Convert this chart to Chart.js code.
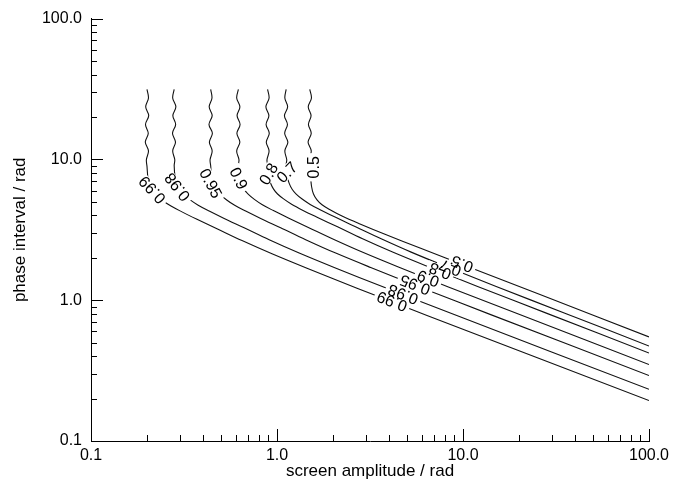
<!DOCTYPE html>
<html>
<head>
<meta charset="utf-8">
<script src="https://cdn.jsdelivr.net/npm/chart.js@4.4.1/dist/chart.umd.min.js"></script>
<style>
  html, body { margin: 0; padding: 0; background: #fff; }
  #wrap { width: 690px; height: 482px; }
</style>
</head>
<body>
<div id="wrap"><canvas id="chart" width="690" height="482"></canvas></div>
<script>
// Contour levels, in drawing order
const levelNames = ['0.99', '0.98', '0.95', '0.9', '0.8', '0.7', '0.5'];

// Contour paths: screen amplitude (x, rad) and phase interval (y, rad)
const c099x = [0.2, 0.2037, 0.1968, 0.2043, 0.1963, 0.2032, 0.1958, 0.2037, 0.1985,
  0.2, 0.2025, 0.2076, 0.2154, 0.2264, 0.2438, 0.2692, 0.3084, 0.3714, 0.4756, 0.6484, 0.9398, 1.450, 2.692, 6.404, 100];
const c099y = [31.4, 27.31, 23.63, 20.46, 17.71, 15.33, 13.27, 11.49, 9.95,
  8.92, 7.37, 6.58, 5.98, 5.52, 5.09, 4.66, 4.24, 3.76, 3.22, 2.65, 2.135, 1.685, 1.217, 0.780, 0.194];

const c098x = [0.28, 0.2749, 0.2860, 0.2755, 0.2852, 0.2742, 0.2846, 0.2749, 0.2821,
  0.28, 0.2835, 0.2906, 0.3016, 0.3170, 0.3413, 0.3769, 0.4318, 0.520, 0.6658, 0.9078, 1.316, 2.030, 3.769, 8.966, 100];
const c098y = [31.4, 27.31, 23.63, 20.46, 17.71, 15.33, 13.27, 11.49, 9.95,
  9.05, 7.47, 6.67, 6.06, 5.60, 5.16, 4.73, 4.30, 3.81, 3.27, 2.69, 2.165, 1.709, 1.234, 0.791, 0.233];

const c095x = [0.44, 0.4471, 0.4319, 0.4482, 0.4308, 0.4494, 0.4330, 0.4482, 0.4367,
  0.44, 0.4455, 0.4567, 0.4739, 0.4981, 0.5364, 0.5922, 0.6785, 0.8171, 1.046, 1.426, 2.068, 3.190, 5.922, 14.09, 100];
const c095y = [31.4, 27.31, 23.63, 20.46, 17.71, 15.33, 13.27, 11.49, 9.95,
  9.02, 7.45, 6.66, 6.05, 5.59, 5.15, 4.72, 4.30, 3.81, 3.27, 2.69, 2.16, 1.707, 1.233, 0.790, 0.292];

const c090x = [0.62, 0.6071, 0.6316, 0.6101, 0.6332, 0.6086, 0.6316, 0.6071, 0.6246,
  0.62, 0.6278, 0.6436, 0.6677, 0.7018, 0.7558, 0.8345, 0.956, 1.151, 1.474, 2.010, 2.913, 4.494, 8.345, 19.85, 100];
const c090y = [31.4, 27.31, 23.63, 20.46, 17.71, 15.33, 13.27, 11.49, 9.95,
  9.11, 7.52, 6.72, 6.10, 5.64, 5.20, 4.76, 4.33, 3.84, 3.29, 2.71, 2.18, 1.721, 1.243, 0.797, 0.349];

const c080x = [0.89, 0.9067, 0.8715, 0.9044, 0.8736, 0.9089, 0.8758, 0.9067, 0.8834,
  0.89, 0.9011, 0.9238, 0.9585, 1.007, 1.085, 1.198, 1.372, 1.653, 2.116, 2.885, 4.182, 6.452, 11.98, 28.50, 100];
const c080y = [31.4, 27.31, 23.63, 20.46, 17.71, 15.33, 13.27, 11.49, 9.95,
  9.19, 7.58, 6.77, 6.15, 5.68, 5.24, 4.80, 4.36, 3.87, 3.32, 2.73, 2.197, 1.735, 1.253, 0.803, 0.421];

const c070x = [1.12, 1.1021, 1.1410, 1.0967, 1.1382, 1.0994, 1.1438, 1.1021, 1.1283,
  1.12, 1.134, 1.163, 1.206, 1.268, 1.365, 1.508, 1.727, 2.080, 2.663, 3.631, 5.263, 8.119, 15.08, 35.86, 100];
const c070y = [31.4, 27.31, 23.63, 20.46, 17.71, 15.33, 13.27, 11.49, 9.95,
  9.17, 7.57, 6.76, 6.14, 5.67, 5.23, 4.79, 4.36, 3.86, 3.31, 2.73, 2.195, 1.733, 1.251, 0.802, 0.473];

const c050x = [1.5, 1.5319, 1.4724, 1.5243, 1.4760, 1.5281, 1.4688, 1.5281, 1.4889,
  1.5, 1.514, 1.533, 1.571, 1.641, 1.746, 1.928, 2.236, 2.794, 3.808, 5.874, 10.91, 25.94, 100];
const c050y = [31.4, 27.31, 23.63, 20.46, 17.71, 15.33, 13.27, 11.49, 9.95,
  9.04, 7.70, 6.45, 5.68, 5.16, 4.76, 4.39, 3.96, 3.48, 2.94, 2.35, 1.706, 1.098, 0.549];

// Axis ticks
const majorTicks = [0.1, 1, 10, 100];
const tickLabels = ['0.1', '1.0', '10.0', '100.0'];
const minorTicks = [0.2, 0.3, 0.4, 0.5, 0.6, 0.7, 0.8, 0.9, 2, 3, 4, 5, 6, 7, 8, 9, 20, 30, 40, 50, 60, 70, 80, 90];

// Where each level is annotated: near the knee, and again along the sloping part
const kneeLabelX = [0.2128, 0.2901, 0.4418, 0.6247, 0.898, 1.128, 1.567];
const kneeLabelY = [6.05, 6.34, 6.77, 7.34, 7.91, 8.12, 8.79];
const kneeLabelRot = [227, 232, 62, 64, 300, 315, 270];
const slopeLabelX = [4.15, 4.76, 5.52, 6.48, 7.52, 8.51, 9.88];
const slopeLabelRot = 201;

const FONT = '"Liberation Sans", Arial, Helvetica, sans-serif';

const paths = [[c099x, c099y], [c098x, c098y], [c095x, c095y], [c090x, c090y],
               [c080x, c080y], [c070x, c070y], [c050x, c050y]];

const datasets = paths.map(([xs, ys], i) => ({
  label: levelNames[i],
  data: xs.map((x, k) => ({ x: x, y: ys[k] })),
  showLine: true,
  borderColor: '#111',
  borderWidth: 1.1,
  pointRadius: 0,
  pointHoverRadius: 0,
  tension: 0.35,
  fill: false
}));

// y pixel of a drawn contour at a given x pixel (linear between its vertices)
function pathPixelY(chart, dsIndex, px) {
  const pts = chart.getDatasetMeta(dsIndex).data;
  for (let k = pts.length - 1; k > 0; k--) {
    const a = pts[k - 1], b = pts[k];
    if (a.x <= px && b.x >= px && b.x > a.x) {
      return a.y + (b.y - a.y) * (px - a.x) / (b.x - a.x);
    }
  }
  return pts[pts.length - 1].y;
}

const contourLabels = {
  id: 'contourLabels',
  afterDatasetsDraw(chart) {
    const { ctx, scales: { x, y } } = chart;
    const items = [];
    levelNames.forEach((t, i) => {
      items.push({ text: t, px: x.getPixelForValue(kneeLabelX[i]), py: y.getPixelForValue(kneeLabelY[i]), rot: kneeLabelRot[i] });
      const sx = x.getPixelForValue(slopeLabelX[i]);
      items.push({ text: t, px: sx, py: pathPixelY(chart, i, sx), rot: slopeLabelRot });
    });
    ctx.save();
    ctx.font = '16px ' + FONT;
    // clear the line underneath each label first
    items.forEach(it => {
      const w = ctx.measureText(it.text).width + 6;
      ctx.save();
      ctx.translate(it.px, it.py);
      ctx.rotate(it.rot * Math.PI / 180);
      ctx.fillStyle = '#fff';
      ctx.fillRect(-w / 2, -6.5, w, 13);
      ctx.restore();
    });
    items.forEach(it => {
      ctx.save();
      ctx.translate(it.px, it.py);
      ctx.rotate(it.rot * Math.PI / 180);
      ctx.fillStyle = '#000';
      ctx.textAlign = 'center';
      ctx.textBaseline = 'alphabetic';
      ctx.fillText(it.text, 0, 5.7);
      ctx.restore();
    });
    ctx.restore();
  }
};

// Tick marks pointing into the plot
const inwardTicks = {
  id: 'inwardTicks',
  afterDraw(chart) {
    const { ctx, chartArea: a, scales: { x, y } } = chart;
    ctx.save();
    ctx.strokeStyle = '#000';
    ctx.lineWidth = 1;
    ctx.beginPath();
    const mark = (v, len) => {
      const px = Math.round(x.getPixelForValue(v)) + 0.5;
      ctx.moveTo(px, a.bottom);
      ctx.lineTo(px, a.bottom - len);
      const py = Math.round(y.getPixelForValue(v)) + 0.5;
      ctx.moveTo(a.left, py);
      ctx.lineTo(a.left + len, py);
    };
    majorTicks.forEach(v => mark(v, 12));
    minorTicks.forEach(v => mark(v, 6));
    ctx.stroke();
    ctx.restore();
  }
};

const axisCommon = {
  type: 'logarithmic',
  min: 0.1,
  max: 100,
  afterBuildTicks: s => { s.ticks = majorTicks.map(v => ({ value: v })); },
  grid: { display: false, drawTicks: false },
  border: { display: true, color: '#000', width: 1 }
};

new Chart(document.getElementById('chart'), {
  type: 'scatter',
  data: { datasets },
  options: {
    responsive: false,
    animation: false,
    events: [],
    layout: { padding: { top: 10, right: 41, left: 0, bottom: 0 } },
    plugins: { legend: { display: false }, tooltip: { enabled: false } },
    scales: {
      x: Object.assign({}, axisCommon, {
        position: 'bottom',
        afterFit: s => { s.height = 41; },
        ticks: {
          autoSkip: false, maxRotation: 0, minRotation: 0, padding: 5,
          color: '#000', font: { size: 16, family: FONT },
          callback: (v, i) => tickLabels[i]
        },
        title: {
          display: true, text: 'screen amplitude / rad', color: '#000',
          font: { size: 17, family: FONT }, padding: { top: 0, bottom: 0 }
        }
      }),
      y: Object.assign({}, axisCommon, {
        position: 'left',
        afterFit: s => { s.width = 91; },
        ticks: {
          autoSkip: false, padding: 9,
          color: '#000', font: { size: 16, family: FONT },
          callback: (v, i) => tickLabels[i]
        },
        title: {
          display: true, text: 'phase interval / rad', color: '#000',
          font: { size: 17, family: FONT }, padding: { top: 10, bottom: 0 }
        }
      })
    }
  },
  plugins: [inwardTicks, contourLabels]
});
</script>
</body>
</html>
